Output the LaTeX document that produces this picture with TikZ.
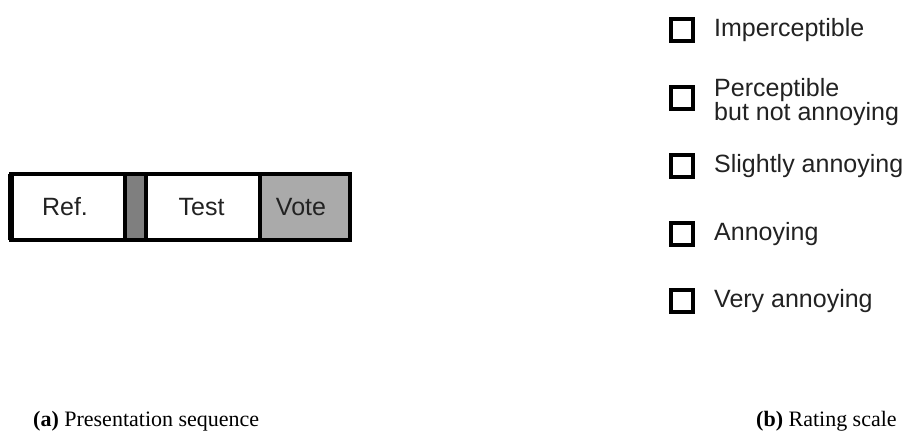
\documentclass[tikz,border=0pt]{standalone}
\usepackage{fontspec}
\setmainfont{Liberation Serif}
\newfontfamily\arialfont{Liberation Sans}
\definecolor{darkseg}{HTML}{7F7F7F}
\definecolor{voteseg}{HTML}{AAAAAA}
\definecolor{txtgray}{HTML}{222222}
\begin{document}
\begin{tikzpicture}[x=1bp,y=-1bp,
  seg/.style={draw=black, line width=4bp, inner sep=0pt, outer sep=0pt,
    minimum height=66bp, font=\arialfont\fontsize{25bp}{28bp}\selectfont, text=txtgray},
  chk/.style={draw=black, line width=4bp, inner sep=0pt, outer sep=0pt, minimum size=22bp},
  lab/.style={anchor=west, inner sep=0pt, align=left, text=txtgray,
    font=\arialfont\fontsize{25bp}{24bp}\selectfont},
  captext/.style={inner sep=0pt, font=\fontsize{22bp}{24bp}\selectfont, anchor=base west}]
\useasboundingbox[fill=white] (0,0) rectangle (905,435);
% presentation sequence bar
\node[seg, fill=white, minimum width=114bp] (ref) at (68,207) {\hspace*{-6bp}Ref.};
\node[seg, fill=darkseg, minimum width=21bp] (gap) at (135.5,207) {};
\node[seg, fill=white, minimum width=114bp] (test) at (203,207) {\hspace*{-3bp}Test};
\node[seg, fill=voteseg, minimum width=90bp] (vote) at (305,207) {\hspace*{-8bp}Vote};
\draw[line width=6bp] (ref.north west) -- (ref.south west);
% rating scale
\node[chk] (c1) at (682,30) {};
\node[chk] (c2) at (682,98) {};
\node[chk] (c3) at (682,166) {};
\node[chk] (c4) at (682,234) {};
\node[chk] (c5) at (682,301) {};
\node[lab] (l1) at (714,30) {Imperceptible};
\node[lab] (l2) at (714,102) {Perceptible\\but not annoying};
\node[lab] (l3) at (714,166) {Slightly annoying};
\node[lab] (l4) at (714,234) {Annoying};
\node[lab] (l5) at (714,301) {Very annoying};
% captions
\node[captext] (capa) at (33,426) {\textbf{(a)} Presentation sequence};
\node[captext] (capb) at (756,426) {\textbf{(b)} Rating scale};
\end{tikzpicture}
\end{document}
